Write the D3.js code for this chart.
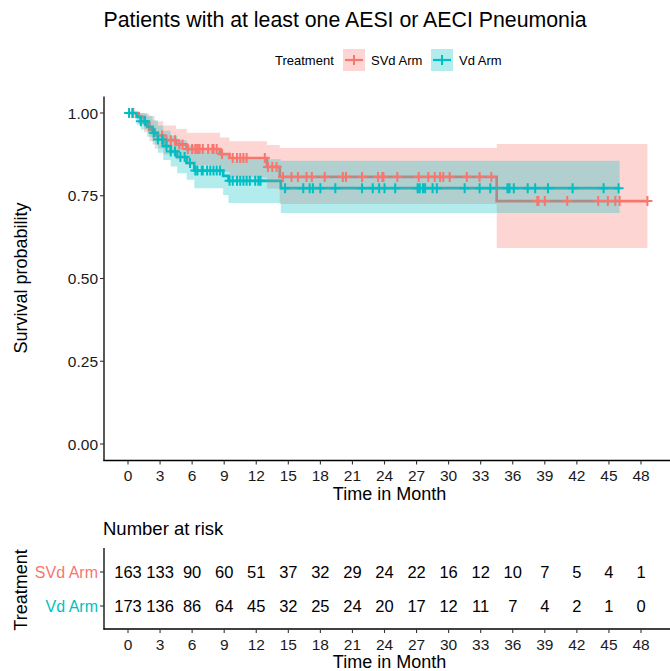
<!DOCTYPE html>
<html>
<head>
<meta charset="utf-8">
<script src="https://cdn.jsdelivr.net/npm/d3@7"></script>
<style>
  body { margin: 0; background: #fff; }
  svg { display: block; }
  text { font-family: "Liberation Sans", Arial, sans-serif; }
</style>
</head>
<body>
<svg id="chart" width="670" height="671"></svg>
<script>
// ---------------- data ----------------
const groups = ["SVd Arm", "Vd Arm"];
const colors = ["#F8766D", "#00BFC4"];

// SVd Arm: step times, survival, CI upper, CI lower
const svdTime  = [0, 1.0, 1.5, 2.0, 2.5, 3.3, 4.5, 5.5, 8.6, 9.5, 13.0, 14.2, 34.5];
const svdSurv  = [1, 0.988, 0.970, 0.950, 0.932, 0.918, 0.905, 0.891, 0.876, 0.864, 0.837, 0.807, 0.734];
const svdUpper = [1, 1.000, 0.998, 0.990, 0.975, 0.962, 0.952, 0.940, 0.926, 0.915, 0.903, 0.894, 0.906];
const svdLower = [1, 0.965, 0.942, 0.915, 0.893, 0.875, 0.860, 0.843, 0.822, 0.805, 0.772, 0.725, 0.592];
const svdEnd = 48.6;
const svdCensor = [0.5, 3.2, 3.6, 4.0, 4.4, 4.8, 5.1, 5.6, 6.0, 6.3, 6.5, 6.7, 7.0, 7.5, 7.9, 8.0, 8.3, 8.8,
  9.8, 10.2, 10.5, 10.8, 11.1, 12.8, 13.1, 13.5, 13.9, 14.5, 15.3, 15.9, 16.7, 17.2, 18.4, 20.1, 20.4,
  21.9, 23.4, 23.8, 23.9, 25.2, 27.2, 28.1, 28.7, 29.2, 29.5, 30.1, 31.7, 32.9, 34.0,
  38.3, 38.4, 39.0, 41.1, 44.0, 44.9, 45.6, 46.0, 48.6];

// Vd Arm
const vdTime  = [0, 0.8, 1.2, 1.8, 2.3, 2.8, 3.3, 4.0, 4.6, 5.5, 6.2, 8.9, 9.4, 14.3];
const vdSurv  = [1, 0.988, 0.975, 0.958, 0.940, 0.920, 0.900, 0.884, 0.867, 0.849, 0.826, 0.810, 0.795, 0.773];
const vdUpper = [1, 1.000, 1.000, 0.992, 0.978, 0.962, 0.946, 0.932, 0.918, 0.903, 0.885, 0.872, 0.860, 0.856];
const vdLower = [1, 0.965, 0.950, 0.928, 0.905, 0.880, 0.858, 0.838, 0.818, 0.798, 0.773, 0.752, 0.728, 0.698];
const vdEnd = 46.0;
const vdCensor = [0.1, 0.4, 1.2, 1.6, 2.4, 2.8, 3.2, 3.6, 4.0, 4.4, 4.9, 5.3, 5.8, 6.3, 6.5, 6.9, 7.0, 7.4,
  7.7, 8.0, 8.3, 8.6, 9.5, 9.8, 10.2, 10.5, 10.8, 11.1, 11.4, 11.9, 12.2, 12.4, 14.7, 16.4, 17.0, 17.3,
  18.0, 19.4, 21.9, 22.9, 23.5, 24.0, 25.0, 27.1, 27.3, 27.6, 27.8, 28.5, 28.9, 31.5, 32.9, 33.9,
  35.5, 35.7, 36.1, 37.4, 38.1, 39.3, 41.6, 44.5, 45.9];

const xTicks = [0, 3, 6, 9, 12, 15, 18, 21, 24, 27, 30, 33, 36, 39, 42, 45, 48];
const yTicks = [0, 0.25, 0.5, 0.75, 1.0];
const svdRisk = [163, 133, 90, 60, 51, 37, 32, 29, 24, 22, 16, 12, 10, 7, 5, 4, 1];
const vdRisk  = [173, 136, 86, 64, 45, 32, 25, 24, 20, 17, 12, 11, 7, 4, 2, 1, 0];

const titleText = "Patients with at least one AESI or AECI Pneumonia";

// ---------------- layout ----------------
const svg = d3.select("#chart");
const panel = { left: 104, right: 676, top: 96.5, bottom: 460.5 };
const x = d3.scaleLinear().domain([0, 48]).range([128, 641]);
const y = d3.scaleLinear().domain([0, 1]).range([444, 113]);

const series = [
  { name: groups[0], color: colors[0], t: svdTime, s: svdSurv, u: svdUpper, l: svdLower, end: svdEnd, c: svdCensor },
  { name: groups[1], color: colors[1], t: vdTime, s: vdSurv, u: vdUpper, l: vdLower, end: vdEnd, c: vdCensor }
];

function stepPoints(sr, key) {
  const pts = sr.t.map((t, i) => ({ t: t, v: sr[key][i] }));
  pts.push({ t: sr.end, v: sr[key][sr[key].length - 1] });
  return pts;
}
function survAt(sr, t) {
  let v = sr.s[0];
  for (let i = 0; i < sr.t.length; i++) if (sr.t[i] <= t) v = sr.s[i];
  return v;
}

// title
svg.append("text").attr("x", 345).attr("y", 27).attr("text-anchor", "middle")
  .attr("font-size", 21.3).attr("fill", "#000").text(titleText);

// legend
const lg = svg.append("g");
lg.append("text").attr("x", 275).attr("y", 65).attr("font-size", 13).text("Treatment");
const legendX = [343, 431];
series.forEach((sr, i) => {
  const kx = legendX[i];
  lg.append("rect").attr("x", kx).attr("y", 49).attr("width", 22).attr("height", 22)
    .attr("fill", sr.color).attr("fill-opacity", 0.3);
  lg.append("line").attr("x1", kx + 2).attr("x2", kx + 20).attr("y1", 60).attr("y2", 60)
    .attr("stroke", sr.color).attr("stroke-width", 2.2);
  lg.append("path").attr("d", `M${kx + 11 - 5},60H${kx + 11 + 5}M${kx + 11},${60 - 5}V${60 + 5}`)
    .attr("stroke", sr.color).attr("stroke-width", 2);
  lg.append("text").attr("x", kx + 28).attr("y", 65).attr("font-size", 13).text(sr.name);
});

// clip for panel
svg.append("clipPath").attr("id", "clip").append("rect")
  .attr("x", panel.left).attr("y", panel.top)
  .attr("width", panel.right - panel.left).attr("height", panel.bottom - panel.top);

const plot = svg.append("g").attr("clip-path", "url(#clip)");

const line = d3.line().x(d => x(d.t)).y(d => y(d.v)).curve(d3.curveStepAfter);
const area = d3.area().x(d => x(d.t)).y0(d => y(d.l)).y1(d => y(d.u)).curve(d3.curveStepAfter);

// survival lines
series.forEach(sr => {
  plot.append("path").attr("d", line(stepPoints(sr, "s")))
    .attr("fill", "none").attr("stroke", sr.color).attr("stroke-width", 2.7);
});
// confidence bands (drawn over the lines)
series.forEach(sr => {
  const pts = sr.t.map((t, i) => ({ t: t, u: sr.u[i], l: sr.l[i] }));
  pts.push({ t: sr.end, u: sr.u[sr.u.length - 1], l: sr.l[sr.l.length - 1] });
  plot.append("path").attr("d", area(pts)).attr("fill", sr.color).attr("fill-opacity", 0.3);
});
// censor marks
series.forEach(sr => {
  const h = 5;
  const d = sr.c.map(t => {
    const cx = x(t), cy = y(survAt(sr, t));
    return `M${cx - h},${cy}H${cx + h}M${cx},${cy - h}V${cy + h}`;
  }).join("");
  plot.append("path").attr("d", d).attr("stroke", sr.color).attr("stroke-width", 2).attr("fill", "none");
});

// axes main
const axisColor = "#000";
svg.append("line").attr("x1", panel.left).attr("x2", panel.left).attr("y1", panel.top).attr("y2", panel.bottom + 0.6)
  .attr("stroke", axisColor).attr("stroke-width", 1.3);
svg.append("line").attr("x1", panel.left - 0.6).attr("x2", 670).attr("y1", panel.bottom).attr("y2", panel.bottom)
  .attr("stroke", axisColor).attr("stroke-width", 1.3);

const yAxisG = svg.append("g");
yTicks.forEach(v => {
  yAxisG.append("line").attr("x1", panel.left - 4).attr("x2", panel.left).attr("y1", y(v)).attr("y2", y(v))
    .attr("stroke", "#333").attr("stroke-width", 1.1);
  yAxisG.append("text").attr("x", panel.left - 6).attr("y", y(v) + 5.5).attr("text-anchor", "end")
    .attr("font-size", 15.5).attr("fill", "#1a1a1a").text(d3.format(".2f")(v));
});
const xAxisG = svg.append("g");
xTicks.forEach(v => {
  xAxisG.append("line").attr("x1", x(v)).attr("x2", x(v)).attr("y1", panel.bottom).attr("y2", panel.bottom + 4)
    .attr("stroke", "#333").attr("stroke-width", 1.1);
  xAxisG.append("text").attr("x", x(v)).attr("y", 481).attr("text-anchor", "middle")
    .attr("font-size", 15.5).attr("fill", "#1a1a1a").text(v);
});
svg.append("text").attr("x", 389.5).attr("y", 500).attr("text-anchor", "middle").attr("font-size", 18)
  .text("Time in Month");
svg.append("text").attr("transform", "translate(27,278) rotate(-90)").attr("text-anchor", "middle")
  .attr("font-size", 18).text("Survival probability");

// ---------------- risk table ----------------
const rt = { top: 548, bottom: 629 };
svg.append("text").attr("x", 103).attr("y", 535).attr("font-size", 18.5).text("Number at risk");
const yRisk = d3.scalePoint().domain(groups).range([572, 606]);
svg.append("line").attr("x1", panel.left).attr("x2", panel.left).attr("y1", rt.top).attr("y2", rt.bottom + 0.6)
  .attr("stroke", axisColor).attr("stroke-width", 1.3);
svg.append("line").attr("x1", panel.left - 0.6).attr("x2", 670).attr("y1", rt.bottom).attr("y2", rt.bottom)
  .attr("stroke", axisColor).attr("stroke-width", 1.3);
const riskVals = [svdRisk, vdRisk];
series.forEach((sr, i) => {
  const yy = yRisk(sr.name);
  svg.append("line").attr("x1", panel.left - 4).attr("x2", panel.left).attr("y1", yy).attr("y2", yy)
    .attr("stroke", "#333").attr("stroke-width", 1.1);
  svg.append("text").attr("x", panel.left - 6).attr("y", yy + 5.5).attr("text-anchor", "end")
    .attr("font-size", 16).attr("fill", sr.color).text(sr.name);
  riskVals[i].forEach((v, j) => {
    svg.append("text").attr("x", x(xTicks[j])).attr("y", yy + 6).attr("text-anchor", "middle")
      .attr("font-size", 16.5).attr("fill", "#000").text(v);
  });
});
xTicks.forEach(v => {
  svg.append("line").attr("x1", x(v)).attr("x2", x(v)).attr("y1", rt.bottom).attr("y2", rt.bottom + 4)
    .attr("stroke", "#333").attr("stroke-width", 1.1);
  svg.append("text").attr("x", x(v)).attr("y", 650).attr("text-anchor", "middle")
    .attr("font-size", 15.5).attr("fill", "#1a1a1a").text(v);
});
svg.append("text").attr("x", 389.5).attr("y", 668).attr("text-anchor", "middle").attr("font-size", 18)
  .text("Time in Month");
svg.append("text").attr("transform", "translate(27,590) rotate(-90)").attr("text-anchor", "middle")
  .attr("font-size", 18).text("Treatment");
</script>
</body>
</html>
